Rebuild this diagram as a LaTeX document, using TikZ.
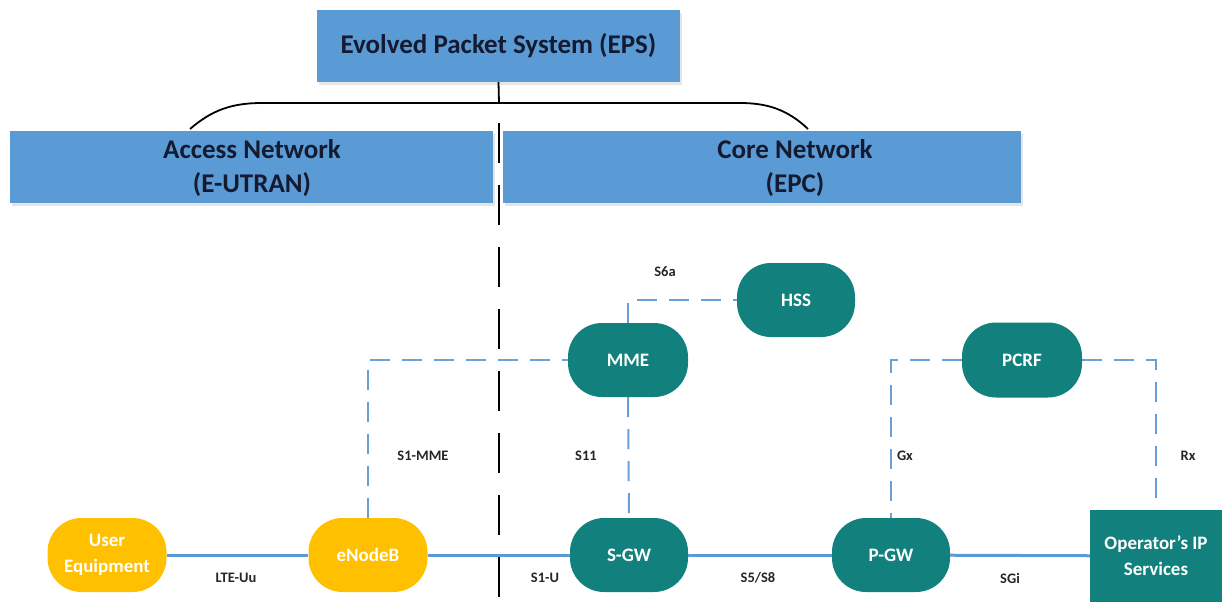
\documentclass[tikz,border=0pt]{standalone}
\usepackage{fontspec}
\setmainfont{Carlito}
\usetikzlibrary{shadows}
\definecolor{boxblue}{HTML}{5B9BD5}
\definecolor{tealnode}{HTML}{12807D}
\definecolor{goldnode}{HTML}{FFC000}
\definecolor{navytext}{HTML}{141A30}
\definecolor{lineblue}{HTML}{5B9BD5}
\definecolor{dashblue}{HTML}{6A9FD5}
\begin{document}
\begin{tikzpicture}[x=1pt,y=-1pt,
  hdr/.style={fill=boxblue, draw=none, inner sep=0pt,
    drop shadow={opacity=0.2, shadow xshift=2pt, shadow yshift=-3pt}},
  hdrtext/.style={font=\bfseries\fontsize{27}{34}\selectfont, text=navytext, align=center, inner sep=0pt},
  elem/.style={rounded corners=34pt, inner sep=0pt, minimum width=118pt, minimum height=74pt,
    text=white, font=\bfseries\fontsize{19}{26}\selectfont, align=center},
  tealbox/.style={elem, fill=tealnode},
  goldbox/.style={elem, fill=goldnode},
  link/.style={draw=lineblue, line width=3pt},
  dlink/.style={draw=dashblue, line width=2pt, dash pattern=on 20pt off 12pt},
  lbl/.style={font=\bfseries\fontsize{14.5}{16}\selectfont, text=black!85, inner sep=0pt},
  brace/.style={draw=black, line width=1.8pt}
]
\useasboundingbox (0,0) rectangle (1224,606);

% header boxes
\node[hdr, minimum width=363pt, minimum height=72pt] (eps) at (498.5,46) {};
\node[hdrtext] (epst) at (eps.center) {Evolved Packet System (EPS)};
\node[hdr, minimum width=483pt, minimum height=72pt] (acc) at (251.5,167) {};
\node[hdrtext] (acct) at (252,168) {Access Network\\(E-UTRAN)};
\node[hdr, minimum width=518pt, minimum height=72pt] (core) at (762,167) {};
\node[hdrtext] (coret) at (795,168) {Core Network\\(EPC)};

% brace
\coordinate (bl) at (190,129);
\coordinate (br) at (808,129);
\coordinate (bm) at (499,103);
\draw[brace] (bl) .. controls (212,110) and (232,103) .. (262,103) -- (bm) -- (740,103)
  .. controls (768,103) and (788,110) .. (br);
\draw[brace] (eps.south) -- (bm);

% network elements
\node[goldbox, minimum width=119pt] (ue) at (107,555) {User\\Equipment};
\node[goldbox, minimum width=119pt] (enb) at (368,555) {eNodeB};
\node[tealbox] (sgw) at (629,555) {S-GW};
\node[tealbox] (pgw) at (891,555) {P-GW};
\node[elem, fill=tealnode, rounded corners=0pt, minimum width=132pt, minimum height=92pt] (op) at (1156,556) {Operator’s IP\\Services};
\node[tealbox, minimum width=120pt] (mme) at (628,360) {MME};
\node[tealbox] (hss) at (796,300) {HSS};
\node[tealbox, minimum width=120pt, minimum height=75pt] (pcrf) at (1022,360) {PCRF};

% solid user-plane links
\draw[link] (ue) -- (enb);
\draw[link] (enb) -- (sgw);
\draw[link] (sgw) -- (pgw);
\draw[link] (pgw) -- (op);

% dashed control-plane links
\draw[dlink] (enb.north) |- (mme.west);
\draw[dlink] (mme.south) -- (sgw.north);
\draw[dlink] (mme.north) |- (hss.west);
\draw[dlink] (pcrf.west) -| (pgw.north);
\draw[dlink] (pcrf.east) -| (op.north);

% divider
\coordinate (dtop) at (499,123);
\coordinate (dbot) at (499,606);
\draw[black, line width=2.5pt, dash pattern=on 40pt off 22pt] (dtop) -- (dbot);

% interface labels
\node[lbl] (l1) at (236,578) {LTE-Uu};
\node[lbl] (l2) at (545,578) {S1-U};
\node[lbl] (l3) at (758,578) {S5/S8};
\node[lbl] (l4) at (1010,578) {SGi};
\node[lbl] (l5) at (423,456) {S1-MME};
\node[lbl] (l6) at (586,456) {S11};
\node[lbl] (l7) at (905,456) {Gx};
\node[lbl] (l8) at (1188,456) {Rx};
\node[lbl] (l9) at (665,272) {S6a};
\end{tikzpicture}
\end{document}
